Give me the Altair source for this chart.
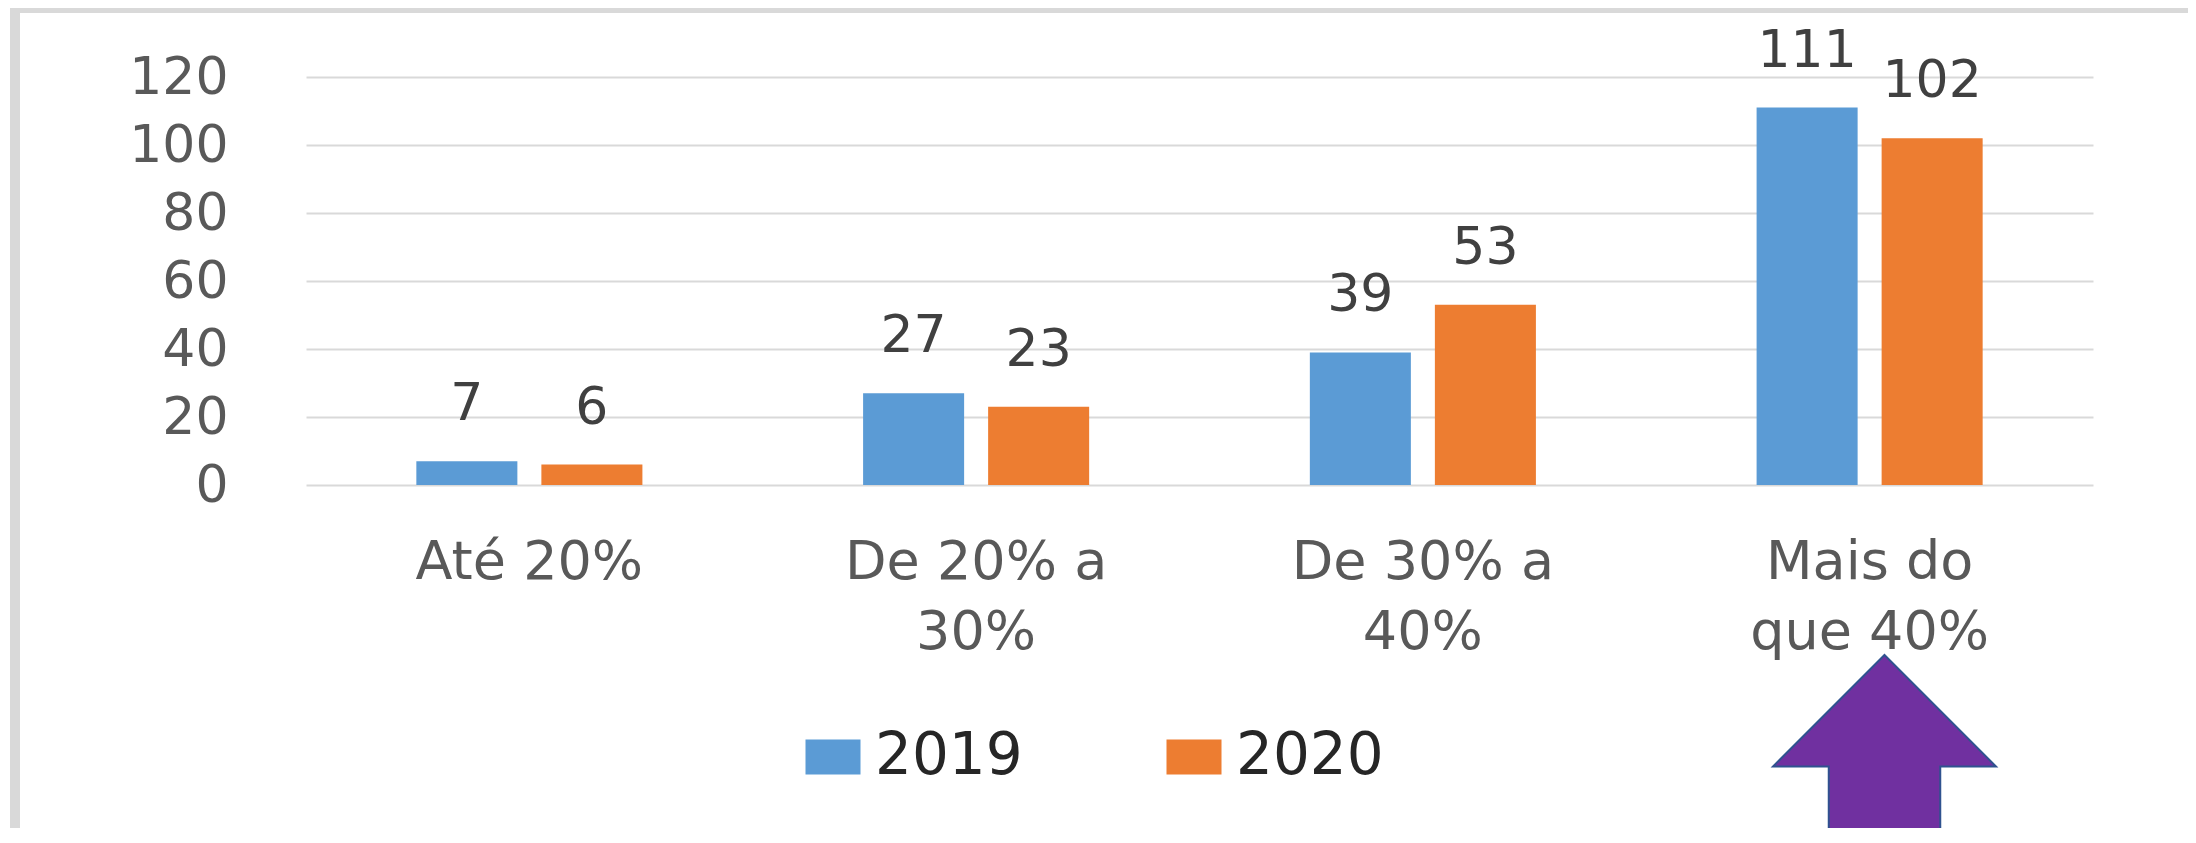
import altair as alt
import pandas as pd

categories = ["Até 20%", "De 20% a 30%", "De 30% a 40%", "Mais do que 40%"]
wrapped_labels = {
    "De 20% a 30%": ["De 20% a", "30%"],
    "De 30% a 40%": ["De 30% a", "40%"],
    "Mais do que 40%": ["Mais do", "que 40%"],
}
years = ["2019", "2020"]
values_2019 = [7, 27, 39, 111]
values_2020 = [6, 23, 53, 102]
y_ticks = [0, 20, 40, 60, 80, 100, 120]
colors = ["#5B9BD5", "#ED7D31"]

rows = []
for c, a, b in zip(categories, values_2019, values_2020):
    rows.append({"categoria": c, "ano": "2019", "valor": a})
    rows.append({"categoria": c, "ano": "2020", "valor": b})
df = pd.DataFrame(rows)

FONT = "DejaVu Sans"

expr = "datum.label"
for k, v in reversed(list(wrapped_labels.items())):
    arr = "[" + ", ".join("'" + s + "'" for s in v) + "]"
    expr = f"datum.value == '{k}' ? {arr} : ({expr})"

x = alt.X(
    "categoria:N",
    sort=categories,
    scale=alt.Scale(paddingInner=0.494, paddingOuter=0.247),
    axis=alt.Axis(
        title=None, labelExpr=expr, labelAngle=0, labelFontSize=54,
        labelColor="#595959", labelFont=FONT, labelPadding=50,
        labelLineHeight=70, domain=False, ticks=False, labelLimit=0,
    ),
)
xo = alt.XOffset("ano:N", sort=years, scale=alt.Scale(paddingInner=0.192, paddingOuter=0))
y = alt.Y(
    "valor:Q",
    scale=alt.Scale(domain=[0, 120], nice=False),
    axis=alt.Axis(
        title=None, values=y_ticks, domain=False, ticks=False,
        gridColor="#D9D9D9", gridWidth=2, labelFontSize=52,
        labelColor="#595959", labelFont=FONT, labelPadding=78,
    ),
)
LEGEND_SYMBOL = "M -1 -0.64 L 1 -0.64 L 1 0.64 L -1 0.64 Z"
color = alt.Color(
    "ano:N",
    sort=years,
    scale=alt.Scale(domain=years, range=colors),
    legend=alt.Legend(
        title=None, orient="none", legendX=498, legendY=651,
        direction="horizontal", symbolType=LEGEND_SYMBOL, symbolSize=3025,
        symbolStrokeWidth=0, labelFontSize=58, labelFont=FONT,
        labelColor="#262626", labelOffset=13, columnPadding=142, padding=0,
    ),
)

bars = alt.Chart(df).mark_bar().encode(x=x, xOffset=xo, y=y, color=color)
texts = alt.Chart(df).mark_text(
    dy=-41, baseline="alphabetic", fontSize=52, font=FONT, color="#404040"
).encode(x=x, xOffset=xo, y=y, text="valor:Q")

one = pd.DataFrame({"k": [0]})
left_border = alt.Chart(one).mark_rule(color="#D9D9D9", strokeWidth=10).encode(
    x=alt.value(-291), y=alt.value(-70), y2=alt.value(780)
)
top_border = alt.Chart(one).mark_rule(color="#D9D9D9", strokeWidth=6).encode(
    x=alt.value(-296), x2=alt.value(1900), y=alt.value(-67)
)

ARROW = "M 0 -1 L 1 0 L 0.5 0 L 0.5 1 L -0.5 1 L -0.5 0 L -1 0 Z"
arrow = alt.Chart(one).mark_point(
    shape=ARROW, size=49729, filled=True, fill="#7030A0",
    stroke="#2F528F", strokeWidth=2, opacity=1,
).encode(x=alt.value(1578.5), y=alt.value(689.5))

chart = (
    alt.layer(left_border, top_border, bars, texts, arrow)
    .properties(
        width=1787, height=408,
        autosize=alt.AutoSizeParams(type="none"),
        padding={"left": 298, "top": 69, "right": 95, "bottom": 343},
    )
    .configure(background="white")
    .configure_view(stroke=None)
)

chart.save("out.html", embed_options={"renderer": "svg", "actions": False})
